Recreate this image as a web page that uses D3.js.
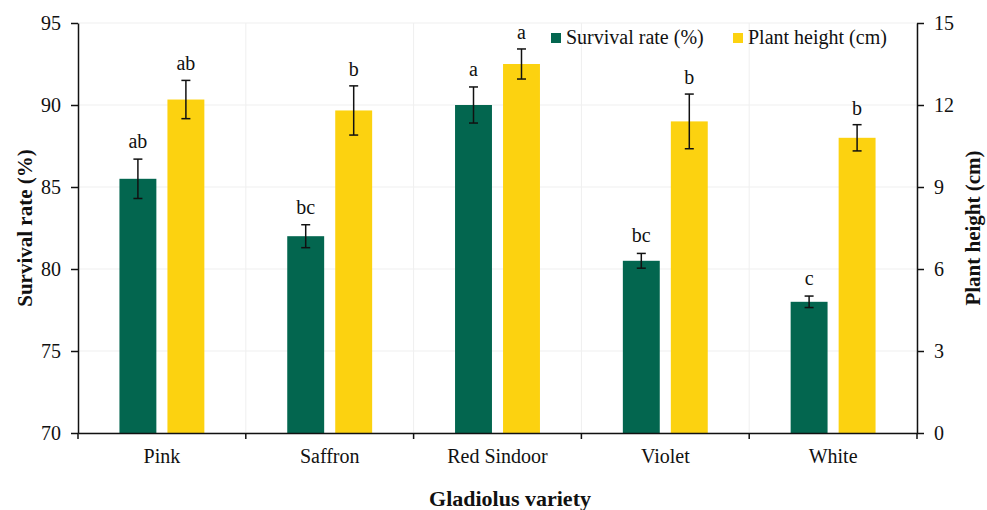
<!DOCTYPE html>
<html>
<head>
<meta charset="utf-8">
<script src="https://cdn.jsdelivr.net/npm/d3@7"></script>
<style>
  body { margin: 0; background: #fff; }
  text { font-family: 'Liberation Serif', 'Times New Roman', serif; fill: #111; }
  .grid line { stroke: #efefef; stroke-width: 1; }
  .axis path, .axis line { stroke: #111; stroke-width: 1.5; }
  .axis text { font-size: 20px; }
</style>
</head>
<body>
<script>
// data
var varieties = ["Pink", "Saffron", "Red Sindoor", "Violet", "White"];
var survival = [85.5, 82.0, 90.0, 80.5, 78.0];
var survivalErr = [1.2, 0.7, 1.1, 0.45, 0.35];
var survivalLetters = ["ab", "bc", "a", "bc", "c"];
var height = [12.2, 11.8, 13.5, 11.4, 10.8];
var heightErr = [0.7, 0.9, 0.55, 1.0, 0.48];
var heightLetters = ["ab", "b", "a", "b", "b"];
var leftTicks = [70, 75, 80, 85, 90, 95];
var rightTicks = [0, 3, 6, 9, 12, 15];

var W = 987, H = 510;
var margin = { top: 23, right: 70, bottom: 77, left: 78 };
var plotW = W - margin.left - margin.right;
var plotH = H - margin.top - margin.bottom;

var green = "#03664f", yellow = "#fcd210";

var svg = d3.select("body").append("svg")
    .attr("width", W).attr("height", H);

var g = svg.append("g")
    .attr("transform", "translate(" + margin.left + "," + margin.top + ")");

var x = d3.scaleBand().domain(varieties).range([0, plotW]);
var yL = d3.scaleLinear().domain([70, 95]).range([plotH, 0]);
var yR = d3.scaleLinear().domain([0, 15]).range([plotH, 0]);

// gridlines
var grid = g.append("g").attr("class", "grid");
grid.selectAll(".h").data(leftTicks).enter().append("line")
    .attr("x1", 0).attr("x2", plotW)
    .attr("y1", function(d) { return yL(d); })
    .attr("y2", function(d) { return yL(d); });
grid.selectAll(".v").data(varieties).enter().append("line")
    .attr("x1", function(d) { return x(d) + x.bandwidth(); })
    .attr("x2", function(d) { return x(d) + x.bandwidth(); })
    .attr("y1", 0).attr("y2", plotH);

var barW = x.bandwidth() * 0.22;
var gap = x.bandwidth() * 0.066;

var rows = varieties.map(function(v, i) {
    return { v: v, s: survival[i], se: survivalErr[i], sl: survivalLetters[i],
             h: height[i], he: heightErr[i], hl: heightLetters[i] };
});

function cx(d, which) {
    var c = x(d.v) + x.bandwidth() / 2;
    return which === 0 ? c - gap / 2 - barW / 2 : c + gap / 2 + barW / 2;
}

// survival bars
g.selectAll(".sbar").data(rows).enter().append("rect")
    .attr("x", function(d) { return cx(d, 0) - barW / 2; })
    .attr("width", barW)
    .attr("y", function(d) { return yL(d.s); })
    .attr("height", function(d) { return plotH - yL(d.s); })
    .attr("fill", green);

// height bars
g.selectAll(".hbar").data(rows).enter().append("rect")
    .attr("x", function(d) { return cx(d, 1) - barW / 2; })
    .attr("width", barW)
    .attr("y", function(d) { return yR(d.h); })
    .attr("height", function(d) { return plotH - yR(d.h); })
    .attr("fill", yellow);

// error bars
function errBars(which, scale, val, err) {
    var eb = g.selectAll(".eb" + which).data(rows).enter().append("g")
        .attr("stroke", "#111").attr("stroke-width", 1.5);
    var cap = 4.5;
    eb.append("line")
        .attr("x1", function(d) { return cx(d, which); })
        .attr("x2", function(d) { return cx(d, which); })
        .attr("y1", function(d) { return scale(d[val] + d[err]); })
        .attr("y2", function(d) { return scale(d[val] - d[err]); });
    eb.append("line")
        .attr("x1", function(d) { return cx(d, which) - cap; })
        .attr("x2", function(d) { return cx(d, which) + cap; })
        .attr("y1", function(d) { return scale(d[val] + d[err]); })
        .attr("y2", function(d) { return scale(d[val] + d[err]); });
    eb.append("line")
        .attr("x1", function(d) { return cx(d, which) - cap; })
        .attr("x2", function(d) { return cx(d, which) + cap; })
        .attr("y1", function(d) { return scale(d[val] - d[err]); })
        .attr("y2", function(d) { return scale(d[val] - d[err]); });
}
errBars(0, yL, "s", "se");
errBars(1, yR, "h", "he");

// significance letters
g.selectAll(".sl").data(rows).enter().append("text")
    .attr("x", function(d) { return cx(d, 0); })
    .attr("y", function(d) { return yL(d.s + d.se) - 11; })
    .attr("text-anchor", "middle")
    .style("font-size", "20px")
    .text(function(d) { return d.sl; });
g.selectAll(".hl").data(rows).enter().append("text")
    .attr("x", function(d) { return cx(d, 1); })
    .attr("y", function(d) { return yR(d.h + d.he) - 10; })
    .attr("text-anchor", "middle")
    .style("font-size", "20px")
    .text(function(d) { return d.hl; });

// axes
g.append("g").attr("class", "axis")
    .call(d3.axisLeft(yL).tickValues(leftTicks).tickSize(7).tickPadding(10).tickSizeOuter(0));
g.append("g").attr("class", "axis")
    .attr("transform", "translate(" + plotW + ",0)")
    .call(d3.axisRight(yR).tickValues(rightTicks).tickSize(7).tickPadding(10).tickSizeOuter(0));

var xAxis = g.append("g").attr("class", "axis")
    .attr("transform", "translate(0," + plotH + ")")
    .call(d3.axisBottom(x).tickSize(0).tickPadding(16));
// tick marks between categories
xAxis.selectAll(".sep").data([0].concat(varieties.map(function(v) { return x(v) + x.bandwidth(); })))
    .enter().append("line")
    .attr("x1", function(d) { return d; }).attr("x2", function(d) { return d; })
    .attr("y1", 0).attr("y2", 6);

// axis titles
svg.append("text")
    .attr("x", 510).attr("y", 506)
    .attr("text-anchor", "middle")
    .style("font-size", "22px").style("font-weight", "bold")
    .text("Gladiolus variety");
svg.append("text")
    .attr("transform", "translate(32," + (margin.top + plotH / 2) + ") rotate(-90)")
    .attr("text-anchor", "middle")
    .style("font-size", "21px").style("font-weight", "bold")
    .text("Survival rate (%)");
svg.append("text")
    .attr("transform", "translate(980," + (margin.top + plotH / 2) + ") rotate(-90)")
    .attr("text-anchor", "middle")
    .style("font-size", "21px").style("font-weight", "bold")
    .text("Plant height (cm)");

// legend
var legendItems = [
    { label: "Survival rate (%)", color: green, x: 551 },
    { label: "Plant height (cm)", color: yellow, x: 733 }
];
var leg = svg.append("g").selectAll("g").data(legendItems).enter().append("g")
    .attr("transform", function(d) { return "translate(" + d.x + ",33)"; });
leg.append("rect").attr("width", 10).attr("height", 10)
    .attr("fill", function(d) { return d.color; });
leg.append("text").attr("x", 15).attr("y", 11)
    .style("font-size", "20px")
    .text(function(d) { return d.label; });
</script>
</body>
</html>
